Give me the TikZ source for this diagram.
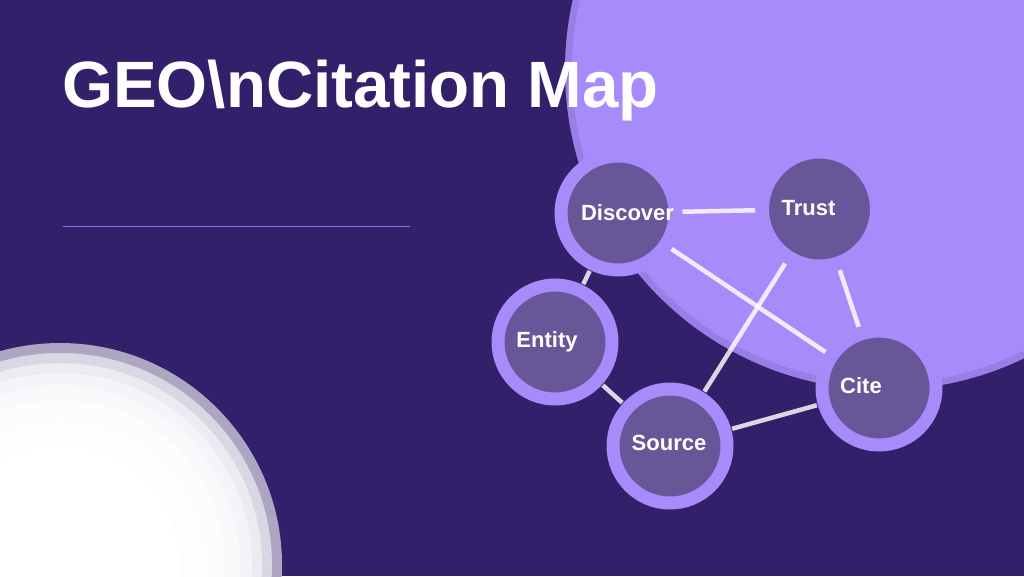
\documentclass[tikz,border=0pt]{standalone}
\usepackage{fontspec}
\setmainfont{Liberation Sans}

\definecolor{fondo}{HTML}{32216A}
\definecolor{lila}{HTML}{A78BFA}
\definecolor{lilaborde}{HTML}{9A7EE8}
\definecolor{nodo}{HTML}{675799}
\definecolor{raya}{HTML}{8B70E6}

\begin{document}
\begin{tikzpicture}[x=1pt, y=-1pt,
    nodo/.style={circle, fill=nodo, draw=lila, line width=13pt, minimum size=114pt, inner sep=0pt},
    etiqueta/.style={text=white, anchor=base, inner sep=0pt, font=\bfseries\fontsize{22}{22}\selectfont},
    enlace/.style={white, opacity=0.82, line width=4.5pt, shorten >=1pt, shorten <=1pt}]

            % Fondo
            \fill[fondo] (0,0) rectangle (1024,576);
            \useasboundingbox (0,0) rectangle (1024,576);

            % Circulo grande
            \fill[lilaborde] (885,70) circle (320pt);
            \fill[lila] (885,70) circle (313pt);

            % Circulo blanco abajo
            \fill[fondo!40!white] (60,565) circle (222pt);
            \fill[fondo!18!white] (60,565) circle (212pt);
            \fill[fondo!9!white] (60,565) circle (202pt);
            \fill[fondo!5!white] (60,565) circle (192pt);
            \fill[fondo!3!white] (60,565) circle (180pt);
            \fill[fondo!1.5!white] (60,565) circle (165pt);
            \fill[fondo!0.7!white] (60,565) circle (145pt);
            \fill[white] (60,565) circle (120pt);

            % Titulo y raya
            \node[text=white, anchor=base west, inner sep=0pt, font=\bfseries\fontsize{65.5}{65.5}\selectfont]
                (titulo) at (62,107) {GEO\textbackslash nCitation Map};
            \draw[raya, line width=1.5pt] (63,226.5) -- (410,226.5);

            % Nodos
            \node[nodo] (discover) at (618,213) {};
            \node[nodo] (trust) at (819.5,209) {};
            \node[nodo] (entity) at (555,342) {};
            \node[nodo] (source) at (670,446) {};
            \node[nodo] (cite) at (879,388) {};

            \node[etiqueta] (discover-t) at ([xshift=9.5pt, yshift=-7pt]discover.center) {Discover};
            \node[etiqueta] (trust-t) at ([xshift=-11pt, yshift=-6.5pt]trust.center) {Trust};
            \node[etiqueta] (entity-t) at ([xshift=-8pt, yshift=-5pt]entity.center) {Entity};
            \node[etiqueta] (source-t) at ([xshift=-1pt, yshift=-4pt]source.center) {Source};
            \node[etiqueta] (cite-t) at ([xshift=-18pt, yshift=-5pt]cite.center) {Cite};

            % Enlaces
            \draw[enlace] (discover) -- (trust);
            \draw[enlace] (discover) -- (cite);
            \draw[enlace] (discover) -- (entity);
            \draw[enlace] (trust) -- (source);
            \draw[enlace] (trust) -- (cite);
            \draw[enlace] (entity) -- (source);
            \draw[enlace] (source) -- (cite);
        \end{tikzpicture}
\end{document}
